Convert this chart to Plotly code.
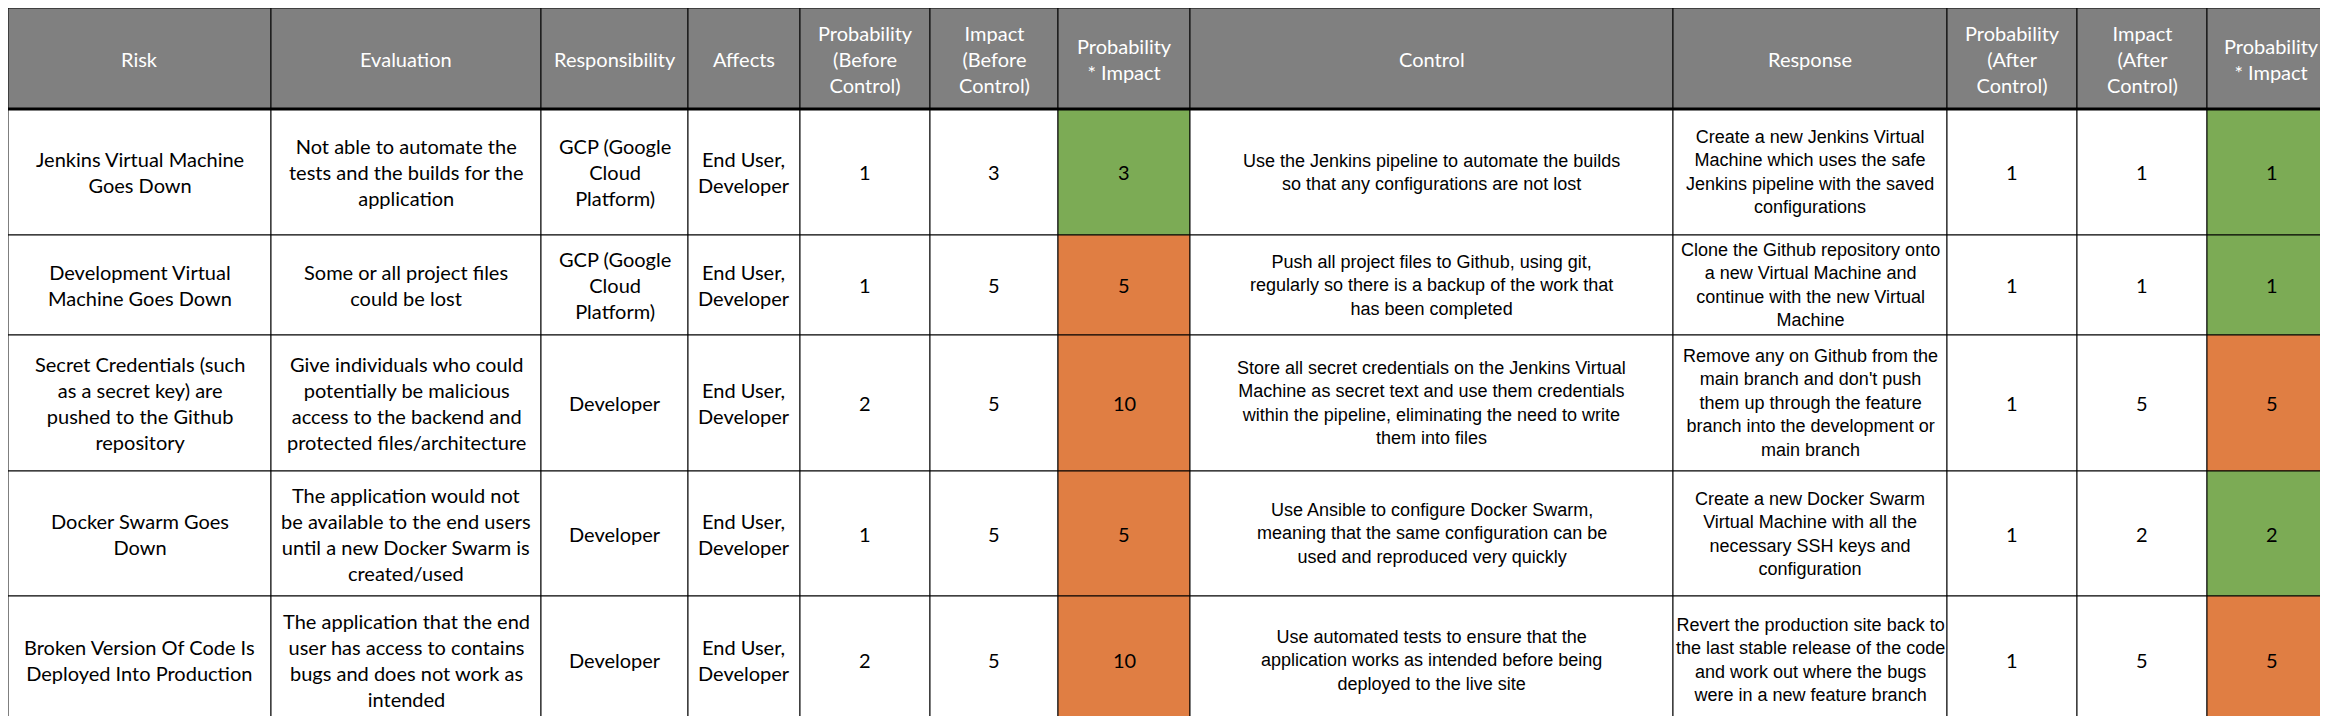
import plotly.graph_objects as go

headers = ["Risk", "Evaluation", "Responsibility", "Affects", "Probability<br>(Before<br>Control)",
           "Impact<br>(Before<br>Control)", "Probability<br>* Impact", "Control", "Response",
           "Probability<br>(After<br>Control)", "Impact<br>(After<br>Control)", "Probability<br>* Impact"]

risk = ["Jenkins Virtual Machine<br>Goes Down", "Development Virtual<br>Machine Goes Down",
        "Secret Credentials (such<br>as a secret key) are<br>pushed to the Github<br>repository",
        "Docker Swarm Goes<br>Down", "Broken Version Of Code Is<br>Deployed Into Production"]
evaluation = ["Not able to automate the<br>tests and the builds for the<br>application",
              "Some or all project files<br>could be lost",
              "Give individuals who could<br>potentially be malicious<br>access to the backend and<br>protected files/architecture",
              "The application would not<br>be available to the end users<br>until a new Docker Swarm is<br>created/used",
              "The application that the end<br>user has access to contains<br>bugs and does not work as<br>intended"]
responsibility = ["GCP (Google<br>Cloud<br>Platform)", "GCP (Google<br>Cloud<br>Platform)", "Developer", "Developer", "Developer"]
affects = ["End User,<br>Developer"] * 5
prob_before = [1, 1, 2, 1, 2]
impact_before = [3, 5, 5, 5, 5]
score_before = [3, 5, 10, 5, 10]
control = ["Use the Jenkins pipeline to automate the builds<br>so that any configurations are not lost",
           "Push all project files to Github, using git,<br>regularly so there is a backup of the work that<br>has been completed",
           "Store all secret credentials on the Jenkins Virtual<br>Machine as secret text and use them credentials<br>within the pipeline, eliminating the need to write<br>them into files",
           "Use Ansible to configure Docker Swarm,<br>meaning that the same configuration can be<br>used and reproduced very quickly",
           "Use automated tests to ensure that the<br>application works as intended before being<br>deployed to the live site"]
response = ["Create a new Jenkins Virtual<br>Machine which uses the safe<br>Jenkins pipeline with the saved<br>configurations",
            "Clone the Github repository onto<br>a new Virtual Machine and<br>continue with the new Virtual<br>Machine",
            "Remove any on Github from the<br>main branch and don't push<br>them up through the feature<br>branch into the development or<br>main branch",
            "Create a new Docker Swarm<br>Virtual Machine with all the<br>necessary SSH keys and<br>configuration",
            "Revert the production site back to<br>the last stable release of the code<br>and work out where the bugs<br>were in a new feature branch"]
prob_after = [1, 1, 1, 1, 1]
impact_after = [1, 1, 5, 2, 5]
score_after = [1, 1, 5, 2, 5]

columns = [risk, evaluation, responsibility, affects, prob_before, impact_before, score_before,
           control, response, prob_after, impact_after, score_after]

# layout constants
col_w = [263, 270, 147, 112, 130, 128, 132, 483, 274, 130, 130, 129]
header_h = 101
row_h = [126, 100, 136, 125, 128]
W, H = 2328, 716
GREEN, ORANGE, GREY = "#7cab55", "#e07e43", "#808080"
score_cols = {6, 11}
narrow_cols = {7, 8}

xs = [0]
for w in col_w:
    xs.append(xs[-1] + w)
ys = [0, header_h]
for h in row_h:
    ys.append(ys[-1] + h)

shapes, annotations = [], []
base_font = "Lato, Open Sans, sans-serif"
narrow_font = "Liberation Sans, Arial, sans-serif"

for c, head in enumerate(headers):
    x0, x1 = xs[c], xs[c + 1]
    shapes.append(dict(type="rect", x0=x0, x1=x1, y0=0, y1=header_h, fillcolor=GREY,
                       line=dict(color="black", width=1), layer="below"))
    annotations.append(dict(x=(x0 + x1) / 2, y=header_h / 2, text=head, showarrow=False,
                            font=dict(family=base_font, size=20, color="white"), align="center"))
    for r in range(len(row_h)):
        val = columns[c][r]
        y0, y1 = ys[r + 1], ys[r + 2]
        fill = "white"
        if c in score_cols:
            fill = GREEN if val <= 3 else ORANGE
        shapes.append(dict(type="rect", x0=x0, x1=x1, y0=y0, y1=y1, fillcolor=fill,
                           line=dict(color="black", width=1), layer="below"))
        annotations.append(dict(x=(x0 + x1) / 2, y=(y0 + y1) / 2, text=str(val), showarrow=False,
                                font=dict(family=narrow_font if c in narrow_cols else base_font,
                                          size=18 if c in narrow_cols else 20, color="black"),
                                align="center"))

shapes.append(dict(type="line", x0=0, x1=W, y0=header_h, y1=header_h, line=dict(color="black", width=3)))

fig = go.Figure(go.Scatter(x=[0, W], y=[0, H], mode="markers", marker=dict(opacity=0), hoverinfo="skip"))
fig.update_layout(width=W, height=H, margin=dict(l=0, r=0, t=0, b=0),
                  paper_bgcolor="white", plot_bgcolor="white", shapes=shapes, annotations=annotations,
                  showlegend=False,
                  xaxis=dict(range=[0, W], visible=False, fixedrange=True),
                  yaxis=dict(range=[H, 0], visible=False, fixedrange=True))
fig.write_html("out.html")
